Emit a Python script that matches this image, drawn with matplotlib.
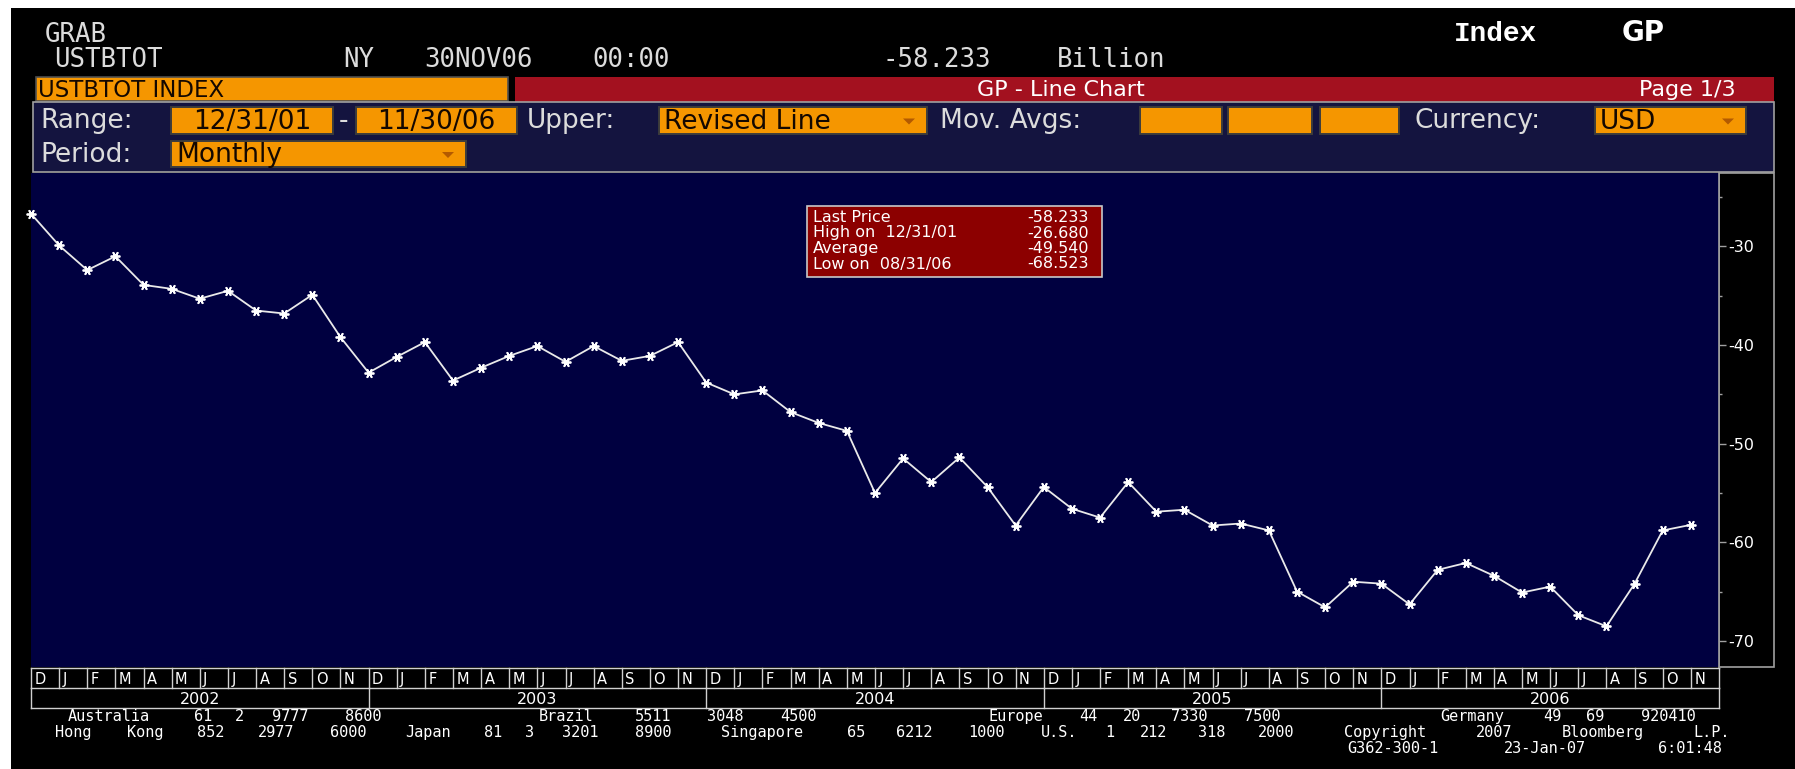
import re
import matplotlib
matplotlib.use("Agg")
import matplotlib.pyplot as plt
from matplotlib.patches import Rectangle, Polygon
from matplotlib.lines import Line2D
from matplotlib.transforms import blended_transform_factory

plt.rcParams['axes.unicode_minus'] = False
plt.rcParams['font.family'] = ['DejaVu Sans']

# ---------------- data ----------------
month_labels = ["D", "J", "F", "M", "A", "M", "J", "J", "A", "S", "O", "N"] * 5
year_labels = ["2002", "2003", "2004", "2005", "2006"]
trade_balance = [
    -26.68, -29.9, -32.4, -31.0, -33.9, -34.3, -35.3, -34.5, -36.5, -36.8, -34.9, -39.2,
    -42.8, -41.2, -39.7, -43.6, -42.3, -41.1, -40.1, -41.7, -40.1, -41.6, -41.1, -39.7,
    -43.8, -45.0, -44.6, -46.8, -47.9, -48.7, -55.0, -51.5, -53.9, -51.4, -54.4, -58.3,
    -54.4, -56.6, -57.5, -53.9, -56.9, -56.7, -58.3, -58.1, -58.8, -65.0, -66.6, -64.0,
    -64.2, -66.3, -62.8, -62.1, -63.4, -65.1, -64.5, -67.4, -68.523, -64.2, -58.8, -58.233,
]
y_ticks = [-30, -40, -50, -60, -70]
y_minor_ticks = [-25, -35, -45, -55, -65]
y_tick_labels = ["-30", "-40", "-50", "-60", "-70"]
stat_names = ["Last Price", "High on  12/31/01", "Average", "Low on  08/31/06"]
stat_values = ["-58.233", "-26.680", "-49.540", "-68.523"]
header_lines = [
    "GRAB",
    "USTBTOT       NY 30NOV06 00:00        -58.233 Billion",
]
security_title = "USTBTOT INDEX"
chart_title = "GP - Line Chart"
page_label = "Page 1/3"
panel_labels = ["Range:", "-", "Upper:", "Mov. Avgs:", "Currency:", "Period:"]
box_texts = ["12/31/01", "11/30/06", "Revised Line", "", "", "", "USD", "Monthly"]
footer_lines = [
    "Australia 61 2 9777 8600".ljust(33) + "Brazil 5511 3048 4500".ljust(31)
    + "Europe 44 20 7330 7500".ljust(31) + "Germany 49 69 920410",
    "Hong Kong 852 2977 6000 Japan 81 3 3201 8900 Singapore 65 6212 1000 "
    "U.S. 1 212 318 2000 Copyright 2007 Bloomberg L.P.",
    " " * 88 + "G362-300-1 23-Jan-07  6:01:48",
]

# ---------------- layout (pixels) ----------------
W, H = 1795, 769
PLOT_L, PLOT_R, PLOT_T, PLOT_B = 31, 1719, 173, 667
Y_LIM = (-72.65, -22.55)

ORANGE = '#F59600'
PANEL = '#14143F'
PLOT_BG = '#000040'
RED = '#A3111F'
GRAY = '#A0A0A0'
TXT = '#DCDCDC'

fig = plt.figure(figsize=(W / 100, H / 100), dpi=100, facecolor='black')
bg = fig.add_axes([0, 0, 1, 1])
bg.set_xlim(0, W)
bg.set_ylim(H, 0)
bg.set_autoscale_on(False)
bg.axis('off')
bg.patch.set_visible(False)


def mono_line(axh, line, x0, pitch, yb, **kw):
    """Place each word of a fixed-pitch line centred on its character columns."""
    for mobj in re.finditer(r'\S+', line):
        xc = x0 + (mobj.start() + len(mobj.group()) / 2) * pitch
        axh.text(xc, yb, mobj.group(), ha='center', va='baseline', **kw)


# white margins
bg.add_patch(Rectangle((0, 0), W, 8, fc='white', ec='none'))
bg.add_patch(Rectangle((0, 0), 11, H, fc='white', ec='none'))

# header
for line, yb in zip(header_lines, [42, 67]):
    mono_line(bg, line, 32, 21.8, yb, family='DejaVu Sans Mono', fontsize=18.5, color=TXT)
bg.text(1454, 41, "Index", family='Liberation Mono', fontweight='bold', fontsize=20,
        color='white', va='baseline')
bg.text(1643, 41, "GP", family='DejaVu Sans', fontweight='bold', fontsize=20,
        color='white', va='baseline', ha='center')

# title bars
bg.add_patch(Rectangle((36, 77), 472, 24, fc=ORANGE, ec='#505050', lw=1.2))
bg.text(38, 97, security_title, fontsize=16.5, color='#140800', va='baseline')
bg.add_patch(Rectangle((515, 77), 1259, 25, fc=RED, ec='none'))
bg.text(1061, 96.5, chart_title, fontsize=16, color='white', va='baseline', ha='center')
bg.text(1736, 96.5, page_label, fontsize=16, color='white', va='baseline', ha='right')

# control panel
bg.add_patch(Rectangle((33, 102), 1741, 70, fc=PANEL, ec=GRAY, lw=1.2))
label_pos = [(40, 128), (344, 128), (527, 128), (940, 128), (1414, 128), (40, 162)]
for s, (x, y) in zip(panel_labels, label_pos):
    ha = 'center' if s == '-' else 'left'
    bg.text(x, y, s, fontsize=19, color=TXT, va='baseline', ha=ha)

boxes = [
    (171, 333, 107, 134, 'center', False),
    (356, 517, 107, 134, 'center', False),
    (659, 927, 107, 134, 'left', True),
    (1140, 1222, 107, 134, 'left', False),
    (1228, 1312, 107, 134, 'left', False),
    (1320, 1399, 107, 134, 'left', False),
    (1595, 1746, 107, 134, 'left', True),
    (171, 466, 141, 167, 'left', True),
]
for s, (x0, x1, y0, y1, align, arrow) in zip(box_texts, boxes):
    bg.add_patch(Rectangle((x0, y0), x1 - x0, y1 - y0, fc=ORANGE, ec='#3C3C3C', lw=1.4))
    base = y1 - 5
    if s:
        if align == 'center':
            bg.text((x0 + x1) / 2, base, s, fontsize=19, color='#140800', va='baseline', ha='center')
        else:
            bg.text(x0 + 5, base, s, fontsize=19, color='#140800', va='baseline', ha='left')
    if arrow:
        xa, yc = x1 - 18, (y0 + y1) / 2 + 1
        bg.add_patch(Polygon([(xa - 6, yc - 3), (xa + 6, yc - 3), (xa, yc + 3)],
                             closed=True, fc='#B35A00', ec='none'))

# right axis box
bg.add_patch(Rectangle((PLOT_R, PLOT_T), 1774 - PLOT_R, PLOT_B - PLOT_T,
                       fc='black', ec=GRAY, lw=1.2))

# main plot
ax = fig.add_axes([PLOT_L / W, 1 - PLOT_B / H, (PLOT_R - PLOT_L) / W, (PLOT_B - PLOT_T) / H])
ax.set_facecolor(PLOT_BG)
ax.set_xlim(0, 60)
ax.set_ylim(*Y_LIM)
ax.plot(range(len(trade_balance)), trade_balance, color='#EAEAEA', lw=1.3,
        marker=(6, 2, 90), ms=7, mew=1.3, mec='white', clip_on=False)
for side in ['top', 'left', 'bottom']:
    ax.spines[side].set_visible(False)
ax.spines['right'].set_color(GRAY)
ax.spines['right'].set_linewidth(1.2)
ax.set_xticks([])
ax.yaxis.set_ticks_position('right')
ax.set_yticks(y_ticks)
ax.set_yticklabels(y_tick_labels)
ax.set_yticks(y_minor_ticks, minor=True)
ax.tick_params(axis='y', which='major', length=5, width=1, color=GRAY,
               labelcolor='white', labelsize=11.5, pad=1.5)
ax.tick_params(axis='y', which='minor', length=2.5, width=1, color=GRAY)

# stats box on an overlay above the plot
overlay = fig.add_axes([0, 0, 1, 1])
overlay.set_xlim(0, W)
overlay.set_ylim(H, 0)
overlay.set_autoscale_on(False)
overlay.axis('off')
overlay.patch.set_visible(False)
overlay.add_patch(Rectangle((807, 206), 295, 71, fc='#8C0000', ec='#C8C8C8', lw=1.2))
stat_base = [222, 237.5, 253, 268.5]
for name, val, yb in zip(stat_names, stat_values, stat_base):
    overlay.text(813, yb, name, fontsize=11.5, color='white', va='baseline')
    overlay.text(1089, yb, val, fontsize=11.5, color='white', va='baseline', ha='right')

# month / year strip using the plot's x scale
trans = blended_transform_factory(ax.transData, bg.transData)
LC = '#D0D0D0'
for yy in (668, 688, 708):
    bg.add_line(Line2D([0, 60], [yy, yy], transform=trans, color=LC, lw=1))
for i in range(61):
    bg.add_line(Line2D([i, i], [668, 688], transform=trans, color=LC, lw=1))
for k in range(6):
    bg.add_line(Line2D([12 * k, 12 * k], [688, 708], transform=trans, color=LC, lw=1))
for i, m in enumerate(month_labels):
    bg.text(i + 0.12, 684, m, transform=trans, fontsize=10.5, color='white', va='baseline')
for k, yl in enumerate(year_labels):
    bg.text(12 * k + 6, 704, yl, transform=trans, fontsize=11.5, color='white',
            va='baseline', ha='center')

# footer
for line, yb in zip(footer_lines, [721, 737, 753]):
    mono_line(bg, line, 44, 14.5, yb, family='DejaVu Sans Mono', fontsize=11, color='white')

fig.savefig('out.png', dpi=100, facecolor='black')
